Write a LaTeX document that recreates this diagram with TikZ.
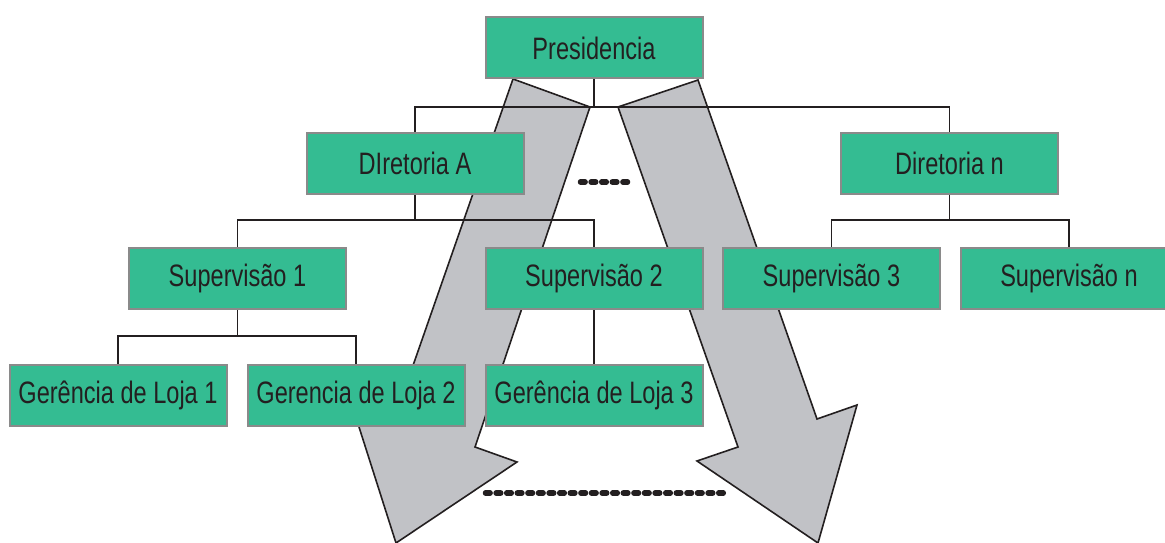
\documentclass[tikz,border=0pt]{standalone}
\usepackage{fontspec}
\setmainfont{Liberation Sans}[FakeStretch=0.76]
\definecolor{boxfill}{HTML}{34BC92}
\definecolor{boxedge}{HTML}{8A8A8A}
\definecolor{flowgray}{HTML}{C1C2C6}
\definecolor{ink}{HTML}{231F20}
\pgfdeclarelayer{back}
\pgfdeclarelayer{mid}
\pgfsetlayers{back,mid,main}
\begin{document}
\begin{tikzpicture}[x=1pt,y=-1pt,
  unit/.style={draw=boxedge, line width=2pt, fill=boxfill,
    minimum width=217pt, minimum height=61pt, inner sep=0pt,
    font=\fontsize{31}{36}\selectfont, text=ink},
  link/.style={draw=ink, line width=1.5pt},
  flow/.style={draw=ink, line width=1.6pt, fill=flowgray, line join=miter},
  gap/.style={draw=ink, line width=5.5pt, line cap=round, dash pattern=on 4.6pt off 6pt}]

\useasboundingbox (0,0) rectangle (1165,543);
\clip (0,0) rectangle (1165,543);

% organisation units
\node[unit] (pres) at (594,48)    {Presidencia};
\node[unit] (dirA) at (415,163.5) {DIretoria A};
\node[unit] (dirN) at (949.5,163.5) {Diretoria n};
\node[unit] (sup1) at (237.5,278.5) {Supervisão 1};
\node[unit] (sup2) at (594,278.5) {Supervisão 2};
\node[unit] (sup3) at (831.5,278.5) {Supervisão 3};
\node[unit] (supN) at (1069,278.5) {Supervisão n};
\node[unit] (ger1) at (118,395) {Gerência de Loja 1};
\node[unit] (ger2) at (356,395) {Gerencia de Loja 2};
\node[unit] (ger3) at (594,395) {Gerência de Loja 3};

% bus junctions
\coordinate (j0) at (594,107);
\coordinate (j1) at (415,220);
\coordinate (j2) at (949.5,220);
\coordinate (j3) at (237.5,336);

% big downward flow arrows
\begin{pgfonlayer}{back}
\draw[flow] (513,79) -- (590,107) -- (475,447) -- (517,462) -- (396,543)
  -- (352,405) -- (394,420) -- cycle;
\draw[flow] (618,107) -- (698,80) -- (817,419) -- (857,405) -- (818,543)
  -- (697,461) -- (738,447) -- cycle;
\end{pgfonlayer}

% hierarchy connectors
\begin{pgfonlayer}{mid}
\draw[link] (pres.south) -- (j0);
\draw[link] (dirA.north) |- (j0) -| (dirN.north);
\draw[link] (dirA.south) -- (j1);
\draw[link] (sup1.north) |- (j1) -| (sup2.north);
\draw[link] (dirN.south) -- (j2);
\draw[link] (sup3.north) |- (j2) -| (supN.north);
\draw[link] (sup1.south) -- (j3);
\draw[link] (ger1.north) |- (j3) -| (ger2.north);
\draw[link] (sup2.south) -- (ger3.north);
\end{pgfonlayer}

% ellipsis marks
\coordinate (e1a) at (580.5,182);
\coordinate (e1b) at (628.5,182);
\coordinate (e2a) at (485.5,493);
\coordinate (e2b) at (724.5,493);
\draw[gap] (e1a) -- (e1b);
\draw[gap] (e2a) -- (e2b);
\end{tikzpicture}
\end{document}
